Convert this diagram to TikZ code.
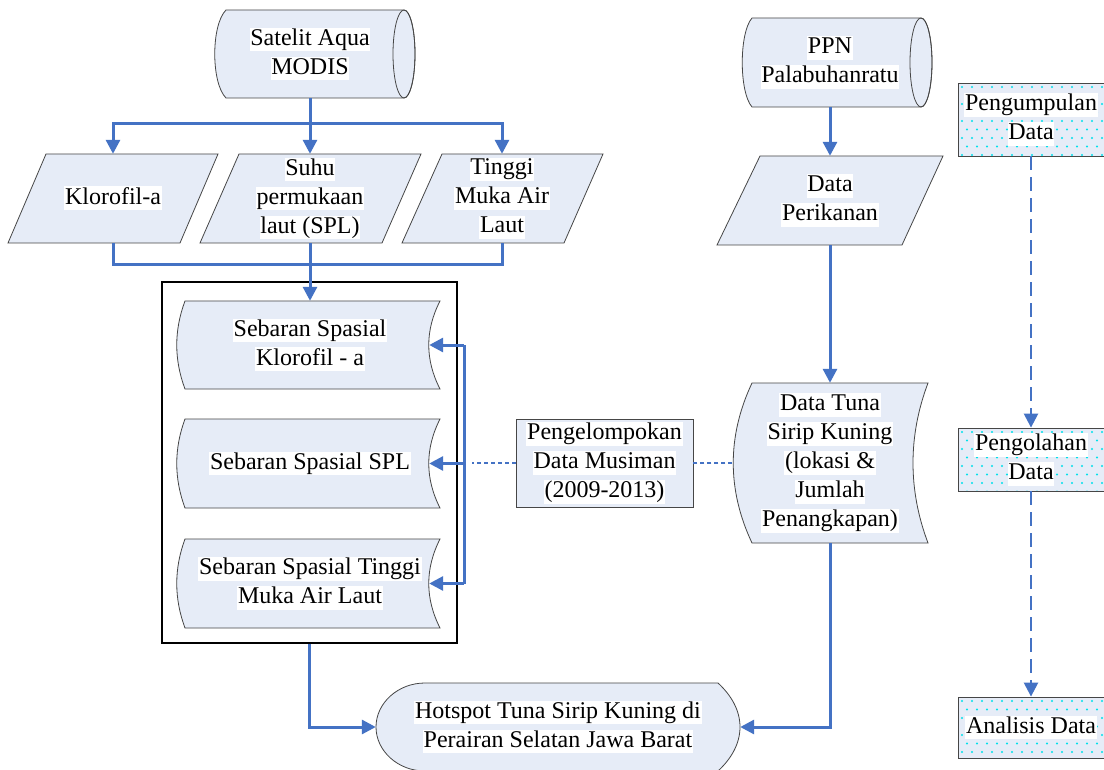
\documentclass[tikz,border=0pt]{standalone}
\usepackage{fontspec}
\setmainfont{Liberation Serif}
\usetikzlibrary{arrows.meta,calc}
\definecolor{fillc}{RGB}{230,236,247}
\definecolor{linec}{RGB}{68,114,196}
\definecolor{edgec}{RGB}{70,70,70}
\definecolor{dotc}{RGB}{0,225,235}
\setlength{\fboxsep}{0.8pt}
\newcommand{\wln}[1]{\colorbox{white}{\rule[-5.5pt]{0pt}{22pt}#1}}
\begin{document}
\begin{tikzpicture}[x=1pt,y=-1pt,
  shp/.style={fill=fillc, draw=edgec, line width=0.8pt},
  txt/.style={inner sep=0pt, align=center, font=\fontsize{24}{29}\selectfont},
  bluel/.style={draw=linec, line width=3pt},
  bluearr/.style={bluel, -{Triangle[length=14pt,width=14pt]}},
  dotln/.style={draw=linec, line width=2.4pt, dash pattern=on 4pt off 3pt},
  dashln/.style={draw=linec, line width=2.4pt, dash pattern=on 14pt off 7pt, -{Triangle[length=14pt,width=14pt]}},
  rbox/.style={txt, draw=edgec, line width=0.8pt, fill=fillc, minimum width=146pt,
    path picture={\foreach \row in {0,...,8}{\foreach \col in {0,...,15}{
      \fill[dotc] ($(path picture bounding box.north west)+({4+\col*10+5*mod(\row,2)},{4+\row*8.5})$) circle[radius=1.2];}}}}
]
\useasboundingbox (0,0) rectangle (1104,770);
\fill[white] (0,0) rectangle (1104,770);

% ---- shapes ----
% Satelit (horizontal cylinder)
\path[shp] (226,10) -- (404,10) .. controls (410.1,10) and (415,29.7) .. (415,54)
  .. controls (415,78.3) and (410.1,98) .. (404,98) -- (226,98)
  .. controls (211,83) and (211,25) .. (226,10) -- cycle;
\draw[edgec, line width=0.8pt] (404,54) ellipse [x radius=11, y radius=44];
% PPN
\path[shp] (752,18) -- (921,18) .. controls (927.1,18) and (932,37.9) .. (932,62.5)
  .. controls (932,87.1) and (927.1,107) .. (921,107) -- (752,107)
  .. controls (739,92) and (739,33) .. (752,18) -- cycle;
\draw[edgec, line width=0.8pt] (921,62.5) ellipse [x radius=11, y radius=44.5];
% parallelograms
\path[shp] (46,154) -- (218,154) -- (180,243) -- (8,243) -- cycle;
\path[shp] (239,154) -- (421,154) -- (382,243) -- (200,243) -- cycle;
\path[shp] (442,154) -- (603,154) -- (564,243) -- (402,243) -- cycle;
\path[shp] (760,156) -- (943,156) -- (902,245) -- (717,245) -- cycle;
% stored data shapes
\foreach \ya/\yb in {301/389, 419/508, 539/628}{
  \path[shp] (185,\ya) -- (440,\ya)
    .. controls (425,{\ya+(\yb-\ya)/3}) and (425,{\ya+2*(\yb-\ya)/3}) .. (440,\yb)
    -- (185,\yb)
    .. controls (174,{\ya+2*(\yb-\ya)/3}) and (174,{\ya+(\yb-\ya)/3}) .. (185,\ya) -- cycle;
}
\path[shp] (752,383) -- (928,383) .. controls (908,436) and (908,490) .. (928,543)
  -- (752,543) .. controls (727,490) and (727,436) .. (752,383) -- cycle;
% Hotspot (display)
\path[shp] (425,683) -- (718,683) .. controls (731,695) and (740,710) .. (740,727)
  .. controls (740,744) and (731,759) .. (718,771) -- (425,771)
  .. controls (398,771) and (376,751) .. (376,727)
  .. controls (376,703) and (398,683) .. (425,683) -- cycle;

% ---- nodes ----
\node[txt, minimum width=190pt, minimum height=88pt] (sat) at (310,54) {\wln{Satelit Aqua}\\\wln{MODIS}};
\node[txt, minimum width=180pt, minimum height=89pt] (ppn) at (830,62.5) {\wln{PPN}\\\wln{Palabuhanratu}};
\node[txt, minimum width=170pt, minimum height=89pt] (kl) at (113,198.5) {\wln{Klorofil-a}};
\node[txt, minimum width=180pt, minimum height=89pt] (spl) at (310,198.5) {\wln{Suhu}\\\wln{permukaan}\\\wln{laut (SPL)}};
\node[txt, minimum width=160pt, minimum height=89pt] (tml) at (502,198.5) {\wln{Tinggi}\\\wln{Muka Air}\\\wln{Laut}};
\node[txt, minimum width=180pt, minimum height=89pt] (dp) at (830,200.5) {\wln{Data}\\\wln{Perikanan}};
\node[draw=black, line width=1.2pt, minimum width=295pt, minimum height=361pt, inner sep=0pt] (grp) at (309.5,462.5) {};
\node[txt, minimum width=238pt, minimum height=88pt] (s1) at (310,345) {\wln{Sebaran Spasial}\\\wln{Klorofil - a}};
\node[txt, minimum width=238pt, minimum height=89pt] (s2) at (310,463.5) {\wln{Sebaran Spasial SPL}};
\node[txt, minimum width=238pt, minimum height=89pt] (s3) at (310,583.5) {\wln{Sebaran Spasial Tinggi}\\\wln{Muka Air Laut}};
\node[txt, shp, minimum width=177pt, minimum height=88pt] (peng) at (604.5,463) {\wln{Pengelompokan}\\\wln{Data Musiman}\\\wln{(2009-2013)}};
\node[txt, minimum width=195pt, minimum height=160pt] (dt) at (830,463) {\wln{Data Tuna}\\\wln{Sirip Kuning}\\\wln{(lokasi \&}\\\wln{Jumlah}\\\wln{Penangkapan)}};
\node[txt, minimum width=364pt, minimum height=88pt] (hot) at (558,727) {\wln{Hotspot Tuna Sirip Kuning di}\\\wln{Perairan Selatan Jawa Barat}};
\node[rbox, minimum height=73pt] (r1) at (1031,119.5) {\wln{Pengumpulan}\\\wln{Data}};
\node[rbox, minimum height=63pt] (r2) at (1031,459.5) {\wln{Pengolahan}\\\wln{Data}};
\node[rbox, minimum height=61pt] (r3) at (1031,727.5) {\wln{Analisis Data}};

% ---- connectors ----
\coordinate (br) at (310,124);
\coordinate (cl) at (310,265);
\coordinate (jn) at (464,463);
\coordinate (jd) at (472,463);
\draw[bluel] (sat.south) -- (br);
\draw[bluearr] (br) -| (kl.north);
\draw[bluearr] (br) -- (spl.north);
\draw[bluearr] (br) -| (tml.north);
\draw[bluel] (kl.south) |- (cl) -| (tml.south);
\draw[bluel] (spl.south) -- (cl);
\draw[bluearr] (cl) -- (s1.north);
\draw[bluel] (jn |- s1.east) -- (jn |- s3.east);
\foreach \s in {s1,s2,s3} \draw[bluearr] (jn |- \s.east) -- (\s.east);
\draw[dotln] (peng.west) -- (jd);
\draw[dotln] (dt.west) -- (peng.east);
\draw[bluearr] (ppn.south) -- (dp.north);
\draw[bluearr] (dp.south) -- (dt.north);
\draw[bluearr] (dt.south) |- (hot.east);
\draw[bluearr] (grp.south) |- (hot.west);
\draw[dashln] (r1.south) -- (r2.north);
\draw[dashln] (r2.south) -- (r3.north);
\end{tikzpicture}
\end{document}
